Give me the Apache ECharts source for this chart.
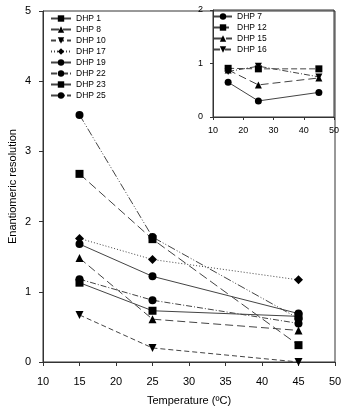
<!DOCTYPE html>
<html>
<head>
  <meta charset="UTF-8">
  <title>Enantiomeric resolution vs temperature</title>
  <script src="https://cdn.jsdelivr.net/npm/echarts@6/dist/echarts.min.js"></script>
  <style>
    html, body { margin: 0; padding: 0; background: #fff; }
    #main { width: 343px; height: 412px; }
  </style>
</head>
<body>
<div id="main"></div>
<script type="text/javascript">
  // temperatures (ºC)
  var temps = [15, 25, 45];

  // main panel
  var dhp1 = [1.13, 0.73, 0.65];
  var dhp8 = [1.48, 0.61, 0.45];
  var dhp10 = [0.67, 0.20, 0.00];
  var dhp17 = [1.76, 1.46, 1.17];
  var dhp19 = [1.68, 1.22, 0.69];
  var dhp22 = [1.18, 0.88, 0.55];
  var dhp23 = [2.68, 1.75, 0.24];
  var dhp25 = [3.52, 1.78, 0.62];

  // inset panel
  var dhp7 = [0.65, 0.30, 0.46];
  var dhp12 = [0.91, 0.90, 0.90];
  var dhp15 = [0.88, 0.60, 0.73];
  var dhp16 = [0.85, 0.95, 0.75];

  var mainTicks = [0, 1, 2, 3, 4, 5];
  var insetTicks = [0, 1, 2];

  var triangle = 'path://M0,10 L5,0 L10,10 Z';
  var invTriangle = 'path://M0,0 L10,0 L5,10 Z';
  var diamond = 'path://M5,0 L10,5 L5,10 L0,5 Z';

  function pts(vals) {
    return temps.map(function(t, i) { return [t, vals[i]]; });
  }

  function line(name, vals, symbol, dash, idx, size) {
    return {
      name: name,
      type: 'line',
      xAxisIndex: idx,
      yAxisIndex: idx,
      data: pts(vals),
      symbol: symbol,
      symbolSize: size,
      showAllSymbol: true,
      animation: false,
      z: 6,
      itemStyle: { color: '#000', borderWidth: 0 },
      lineStyle: { color: '#444', width: 1, type: dash }
    };
  }

  var font = 'Liberation Sans, Arial, sans-serif';

  var option = {
    backgroundColor: '#fff',
    textStyle: { fontFamily: font },
    grid: [
      { left: 43, right: 8, top: 11, bottom: 50, show: true, borderColor: '#333', borderWidth: 1, outerBoundsMode: 'none', containLabel: false },
      { left: 213, right: 9, top: 10, bottom: 295, show: true, borderColor: '#333', borderWidth: 1, outerBoundsMode: 'none', containLabel: false }
    ],
    legend: [
      {
        left: 50, top: 14, orient: 'vertical', padding: 0,
        itemWidth: 20, itemHeight: 8, itemGap: 2, selectedMode: false,
        textStyle: { fontSize: 8.5, color: '#000', fontFamily: font, lineHeight: 8 },
        data: ['DHP 1', 'DHP 8', 'DHP 10', 'DHP 17', 'DHP 19', 'DHP 22', 'DHP 23', 'DHP 25']
      },
      {
        left: 213, top: 12, orient: 'vertical', padding: 0,
        itemWidth: 18, itemHeight: 8, itemGap: 2, selectedMode: false,
        textStyle: { fontSize: 8.5, color: '#000', fontFamily: font, lineHeight: 8 },
        data: ['DHP 7', 'DHP 12', 'DHP 15', 'DHP 16']
      }
    ],
    xAxis: [
      {
        type: 'value', gridIndex: 0, min: 10, max: 50, interval: 5,
        name: 'Temperature (ºC)', nameLocation: 'middle', nameGap: 33, nameMoveOverlap: false,
        nameTextStyle: { fontSize: 11, color: '#000', fontFamily: font },
        axisLine: { lineStyle: { color: '#333' } },
        axisTick: { inside: false, length: 4, lineStyle: { color: '#333' } },
        axisLabel: { fontSize: 11, color: '#000', margin: 14 },
        splitLine: { show: false }
      },
      {
        type: 'value', gridIndex: 1, min: 10, max: 50, interval: 10,
        axisLine: { lineStyle: { color: '#333' } },
        axisTick: { length: 3, lineStyle: { color: '#333' } },
        axisLabel: { fontSize: 9, color: '#000', margin: 9 },
        splitLine: { show: false }
      }
    ],
    yAxis: [
      {
        type: 'value', gridIndex: 0, min: 0, max: 5, interval: 1,
        name: 'Enantiomeric resolution', nameLocation: 'middle', nameGap: 25, nameMoveOverlap: false,
        nameTextStyle: { fontSize: 11, color: '#000', fontFamily: font },
        axisLine: { show: true, lineStyle: { color: '#333' } },
        axisTick: { show: true, length: 4, lineStyle: { color: '#333' } },
        axisLabel: {
          fontSize: 11, color: '#000', margin: 12,
          formatter: function(v) { return mainTicks.indexOf(v) >= 0 ? String(v) : ''; }
        },
        splitLine: { show: false }
      },
      {
        type: 'value', gridIndex: 1, min: 0, max: 2, interval: 1,
        axisLine: { show: true, lineStyle: { color: '#333' } },
        axisTick: { show: true, length: 3, lineStyle: { color: '#333' } },
        axisLabel: {
          fontSize: 9, color: '#000', margin: 10,
          formatter: function(v) { return insetTicks.indexOf(v) >= 0 ? String(v) : ''; }
        },
        splitLine: { show: false }
      }
    ],
    series: [
      line('DHP 1', dhp1, 'rect', 'solid', 0, 8),
      line('DHP 8', dhp8, triangle, [8, 4], 0, 8),
      line('DHP 10', dhp10, invTriangle, [5, 3], 0, 8),
      line('DHP 17', dhp17, diamond, [1, 2], 0, 9),
      line('DHP 19', dhp19, 'circle', 'solid', 0, 8),
      line('DHP 22', dhp22, 'circle', [6, 2, 1, 2], 0, 8),
      line('DHP 23', dhp23, 'rect', [9, 4], 0, 8),
      line('DHP 25', dhp25, 'circle', [8, 2, 1, 2, 1, 2], 0, 8),
      line('DHP 7', dhp7, 'circle', 'solid', 1, 7),
      line('DHP 12', dhp12, 'rect', [6, 3], 1, 7),
      line('DHP 15', dhp15, triangle, [8, 4], 1, 7),
      line('DHP 16', dhp16, invTriangle, [6, 2, 1, 2], 1, 7)
    ]
  };

  var myChart = echarts.init(document.getElementById('main'));
  myChart.setOption(option);
</script>
</body>
</html>
